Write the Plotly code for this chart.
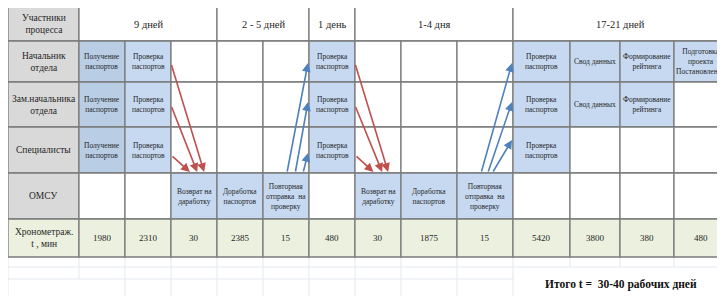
import plotly.graph_objects as go

# ---------------- data ----------------
header_corner = "Участники<br>процесса"
participants = ["Начальник<br>отдела", "Зам.начальника<br>отдела", "Специалисты", "ОМСУ"]
time_label = "Хронометраж.<br>t , мин"
periods = ["9 дней", "2 - 5 дней", "1 день", "1-4 дня", "17-21 дней"]
period_spans = [3, 2, 1, 3, 4]
step_labels = [
    "Получение<br>паспортов", "Проверка<br>паспортов", "Возврат на<br>даработку",
    "Доработка<br>паспортов", "Повторная<br>отправка  на<br>проверку", "Проверка<br>паспортов",
    "Возврат на<br>даработку", "Доработка<br>паспортов", "Повторная<br>отправка  на<br>проверку",
    "Проверка<br>паспортов", "Свод данных", "Формирование<br>рейтинга",
    "Подготовка<br>проекта<br>Постановления",
]
step_rows = [[0, 1, 2], [0, 1, 2], [3], [3], [3], [0, 1, 2], [3], [3], [3],
             [0, 1, 2], [0, 1], [0, 1], [0]]
times = [1980, 2310, 30, 2385, 15, 480, 30, 1875, 15, 5420, 3800, 380, 480]
total_text = "<b>Итого t =  30-40 рабочих дней</b>"

# arrows: (from column, from row, to column, to row)
red_arrows = [(1, 0, 2, 3), (1, 1, 2, 3), (1, 2, 2, 3),
              (5, 0, 6, 3), (5, 1, 6, 3), (5, 2, 6, 3)]
blue_arrows = [(4, 3, 5, 0), (4, 3, 5, 1), (4, 3, 5, 2),
               (8, 3, 9, 0), (8, 3, 9, 1), (8, 3, 9, 2)]

# ---------------- layout geometry ----------------
col_edges = [8, 79, 125, 171, 217, 263, 309, 355, 401, 457, 513, 570, 620, 674, 728]
row_edges = [7, 41, 82, 127, 173, 219, 257]
red_end_frac = [0.72, 0.57, 0.41, 0.72, 0.59, 0.40]
red_start_dy = [2, 1, 5, 2, 1, 5]
blue_start_frac = [0.52, 0.70, 0.87, 0.43, 0.55, 0.63]
blue_end_y = [63, 102, 153, 63, 102, 140]
PAGE_OFFSET = 8  # page body margin

FONT = "Liberation Serif"
LINE = "#7b7b7b"
GRAY = "#d9d9d9"
BLUE_D = "#b9cde5"
BLUE_L = "#c6d9f1"
GREEN = "#ebf1de"
LIGHT = "#e2e7ef"
RED = "#c0504d"
BLUEA = "#4f81bd"

fig = go.Figure()
shapes = []
ann = []


def rect(x0, y0, x1, y1, fill, lw=1.3, lc=LINE):
    shapes.append(dict(type="rect", xref="x", yref="y", x0=x0, y0=y0, x1=x1, y1=y1,
                       fillcolor=fill, line=dict(color=lc, width=lw), layer="below"))


def text(x, y, t, size, color="#262626", family=FONT):
    ann.append(dict(x=x, y=y, xref="x", yref="y", text=t, showarrow=False,
                    font=dict(family=family, size=size, color=color),
                    xanchor="center", yanchor="middle", align="center"))


# light grid below table
for xv in col_edges[:11]:
    yb = 279 if xv == 79 else 300
    shapes.append(dict(type="line", xref="x", yref="y", x0=xv, x1=xv, y0=257, y1=yb,
                       line=dict(color=LIGHT, width=1), layer="below"))
for xv in col_edges[11:14]:
    shapes.append(dict(type="line", xref="x", yref="y", x0=xv, x1=xv, y0=257, y1=267,
                       line=dict(color=LIGHT, width=1), layer="below"))
shapes.append(dict(type="line", xref="x", yref="y", x0=8, x1=730, y0=267, y1=267,
                   line=dict(color=LIGHT, width=1), layer="below"))
shapes.append(dict(type="line", xref="x", yref="y", x0=8, x1=513, y0=279, y1=279,
                   line=dict(color=LIGHT, width=1), layer="below"))

# header row
rect(col_edges[0], row_edges[0], col_edges[1], row_edges[1], GRAY)
text((col_edges[0] + col_edges[1]) / 2, (row_edges[0] + row_edges[1]) / 2, header_corner, 9.5)
ci = 1
for p, span in zip(periods, period_spans):
    x0, x1 = col_edges[ci], col_edges[ci + span]
    rect(x0, row_edges[0], x1, row_edges[1], "white")
    text((x0 + x1) / 2, (row_edges[0] + row_edges[1]) / 2, p, 10.5)
    ci += span

# participant rows
for r, name in enumerate(participants):
    y0, y1 = row_edges[r + 1], row_edges[r + 2]
    rect(col_edges[0], y0, col_edges[1], y1, GRAY)
    text((col_edges[0] + col_edges[1]) / 2, (y0 + y1) / 2, name, 9.5)
    for c in range(len(step_labels)):
        x0, x1 = col_edges[c + 1], col_edges[c + 2]
        filled = r in step_rows[c]
        fill = (BLUE_D if c == 0 else BLUE_L) if filled else "white"
        rect(x0, y0, x1, y1, fill)
        if filled:
            text((x0 + x1) / 2, (y0 + y1) / 2, step_labels[c], 7.5)

# time row
y0, y1 = row_edges[5], row_edges[6]
rect(col_edges[0], y0, col_edges[1], y1, GREEN)
text((col_edges[0] + col_edges[1]) / 2, (y0 + y1) / 2, time_label, 9.5)
for c, t in enumerate(times):
    x0, x1 = col_edges[c + 1], col_edges[c + 2]
    rect(x0, y0, x1, y1, GREEN)
    text((x0 + x1) / 2, (y0 + y1) / 2, str(t), 9)

# total
text(621, 284, total_text, 11.5, color="#111111")

# arrows
for i, (fc, fr, tc, tr) in enumerate(red_arrows):
    sx = col_edges[fc + 2]
    sy = (row_edges[fr + 1] + row_edges[fr + 2]) / 2 + red_start_dy[i]
    ex = col_edges[tc + 1] + red_end_frac[i] * (col_edges[tc + 2] - col_edges[tc + 1])
    ey = row_edges[tr + 1] - 1
    ann.append(dict(x=ex, y=ey, ax=sx, ay=sy, xref="x", yref="y", axref="x", ayref="y",
                    text="", showarrow=True, arrowhead=2, arrowsize=1.1, arrowwidth=1.6,
                    arrowcolor=RED, standoff=0, startstandoff=0))
for i, (fc, fr, tc, tr) in enumerate(blue_arrows):
    sx = col_edges[fc + 1] + blue_start_frac[i] * (col_edges[fc + 2] - col_edges[fc + 1])
    sy = row_edges[fr + 1]
    ex = col_edges[tc + 1] - 1
    ey = blue_end_y[i]
    ann.append(dict(x=ex, y=ey, ax=sx, ay=sy, xref="x", yref="y", axref="x", ayref="y",
                    text="", showarrow=True, arrowhead=2, arrowsize=1.1, arrowwidth=1.6,
                    arrowcolor=BLUEA, standoff=0, startstandoff=0))

fig.update_layout(
    width=725, height=296,
    margin=dict(l=0, r=0, t=0, b=0),
    paper_bgcolor="white", plot_bgcolor="white",
    xaxis=dict(range=[PAGE_OFFSET, 725 + PAGE_OFFSET], visible=False, fixedrange=True),
    yaxis=dict(range=[296 + PAGE_OFFSET, PAGE_OFFSET], visible=False, fixedrange=True),
    shapes=shapes, annotations=ann, showlegend=False,
)
fig.write_html("out.html")
